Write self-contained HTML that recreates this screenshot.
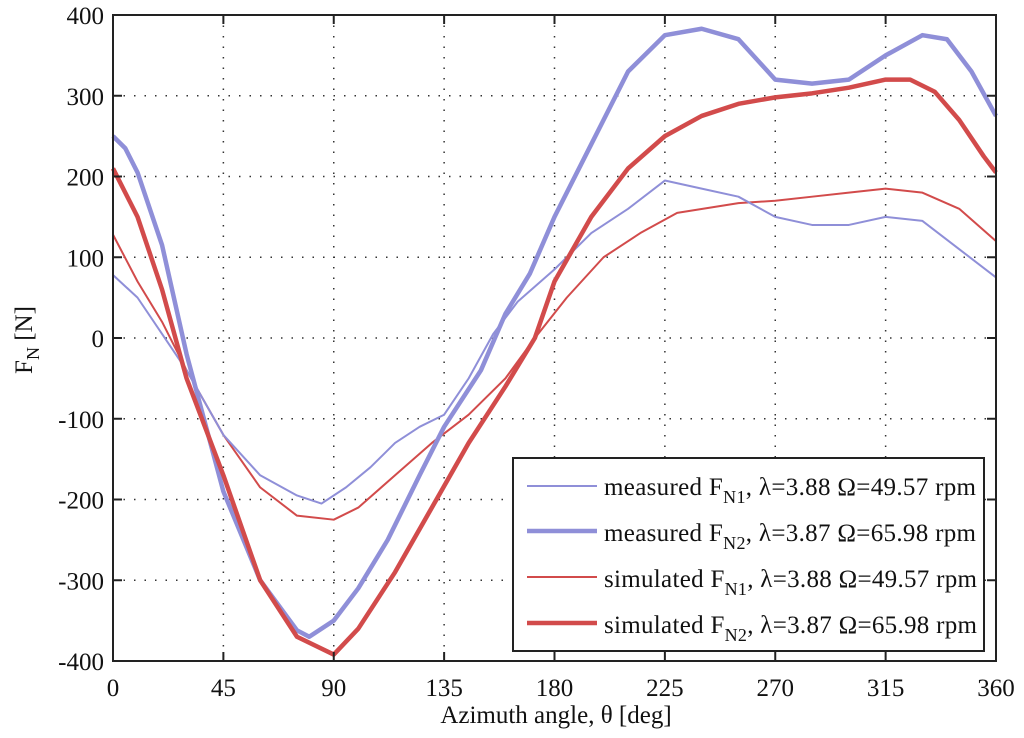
<!DOCTYPE html>
<html><head><meta charset="utf-8"><style>
body{margin:0;background:#fff;width:1024px;height:733px;overflow:hidden}
svg text{font-family:"Liberation Serif",serif;fill:#111}
</style></head><body>
<svg id="chart" width="1024" height="733" xmlns="http://www.w3.org/2000/svg">
<g id="grid"></g>
<g id="series"></g>
<rect x="113" y="15" width="883" height="646" fill="none" stroke="#222" stroke-width="2"/>
<g id="ticks"></g>
<text x="556" y="723" font-size="25" text-anchor="middle">Azimuth angle, θ [deg]</text>
<text transform="translate(32,340) rotate(-90)" font-size="25" text-anchor="middle">F<tspan font-size="18" dy="7">N</tspan><tspan dy="-7"> [N]</tspan></text>
<g>
<rect x="513" y="458" width="471" height="193" fill="#fff" stroke="#222" stroke-width="2"/>
<line x1="527" y1="486" x2="597" y2="486" stroke="#8f8fd8" stroke-width="2"/>
<line x1="527" y1="531" x2="597" y2="531" stroke="#8f8fd8" stroke-width="4.5"/>
<line x1="527" y1="577" x2="597" y2="577" stroke="#d24b4b" stroke-width="2"/>
<line x1="527" y1="623" x2="597" y2="623" stroke="#d24b4b" stroke-width="4.5"/>
<text x="604" y="495" font-size="25" textLength="372">measured F<tspan font-size="18" dy="8">N1</tspan><tspan dy="-8">, λ=3.88 Ω=49.57 rpm</tspan></text>
<text x="604" y="541" font-size="25" textLength="372">measured F<tspan font-size="18" dy="8">N2</tspan><tspan dy="-8">, λ=3.87 Ω=65.98 rpm</tspan></text>
<text x="604" y="587" font-size="25" textLength="373">simulated F<tspan font-size="18" dy="8">N1</tspan><tspan dy="-8">, λ=3.88 Ω=49.57 rpm</tspan></text>
<text x="604" y="633" font-size="25" textLength="373">simulated F<tspan font-size="18" dy="8">N2</tspan><tspan dy="-8">, λ=3.87 Ω=65.98 rpm</tspan></text>
</g>
</svg>
<script>
const xTicks=[0,45,90,135,180,225,270,315,360];
const yTicks=[-400,-300,-200,-100,0,100,200,300,400];
const measN2Theta=[0,5,10,20,30,45,60,75,80,90,100,112,125,135,150,160,170,180,195,210,225,240,255,270,285,300,315,330,340,350,360];
const measN2=[250,235,205,115,-20,-190,-300,-362,-370,-350,-310,-250,-170,-110,-40,30,80,150,240,330,375,383,370,320,315,320,350,375,370,330,275];
const measN1Theta=[0,10,20,30,45,60,75,85,95,105,115,125,135,145,155,165,180,195,210,225,240,255,270,285,300,315,330,345,360];
const measN1=[78,50,5,-40,-120,-170,-195,-205,-185,-160,-130,-110,-95,-50,5,45,85,130,160,195,185,175,150,140,140,150,145,110,75];
const simN2Theta=[0,10,20,30,45,60,75,90,100,115,130,145,160,172,180,195,210,225,240,255,270,285,300,315,325,335,345,355,360];
const simN2=[210,150,60,-50,-170,-300,-370,-392,-360,-290,-210,-130,-60,0,70,150,210,250,275,290,298,303,310,320,320,305,270,225,205];
const simN1Theta=[0,10,20,30,45,60,75,90,100,115,130,145,160,172,185,200,215,230,255,270,285,300,315,330,345,360];
const simN1=[128,70,20,-40,-120,-185,-220,-225,-210,-170,-130,-95,-50,0,50,100,130,155,167,170,175,180,185,180,160,120];
const X=v=>113+v*883/360, Y=v=>338-v*646/800;
const NS="http://www.w3.org/2000/svg";
const grid=document.getElementById('grid'),ticks=document.getElementById('ticks'),ser=document.getElementById('series');
function mk(tag,attrs,parent){const e=document.createElementNS(NS,tag);for(const k in attrs)e.setAttribute(k,attrs[k]);parent.appendChild(e);return e;}
xTicks.forEach(t=>{
 const gl=mk('line',{x1:X(t),x2:X(t),y1:15,y2:661,stroke:'#333','stroke-width':1.5,'stroke-dasharray':'1.5 9'},grid);
 
 
 mk('line',{x1:X(t),x2:X(t),y1:661,y2:652,stroke:'#222','stroke-width':2},ticks);
 mk('line',{x1:X(t),x2:X(t),y1:15,y2:24,stroke:'#222','stroke-width':2},ticks);
 const tx=mk('text',{x:X(t),y:696,'font-size':25,'text-anchor':'middle'},ticks);
 tx.textContent=t;
 
 
});
yTicks.forEach(t=>{
 const gl=mk('line',{x1:113,x2:996,y1:Y(t),y2:Y(t),stroke:'#333','stroke-width':1.5,'stroke-dasharray':'1.5 9'},grid);
 
 
 mk('line',{x1:113,x2:122,y1:Y(t),y2:Y(t),stroke:'#222','stroke-width':2},ticks);
 mk('line',{x1:996,x2:987,y1:Y(t),y2:Y(t),stroke:'#222','stroke-width':2},ticks);
 const tx=mk('text',{x:104,y:Y(t)+9,'font-size':25,'text-anchor':'end'},ticks);
 tx.textContent=t;
 
 
});
function line(th,vals,color,w,name){
 const p=mk('polyline',{points:th.map((t,i)=>X(t)+','+Y(vals[i])).join(' '),fill:'none',stroke:color,'stroke-width':w,'stroke-linejoin':'round'},ser);
 
 
}
line(simN1Theta,simN1,'#d24b4b',2,'line-simulated-n1');
line(measN1Theta,measN1,'#8f8fd8',2,'line-measured-n1');
line(measN2Theta,measN2,'#8f8fd8',4.5,'line-measured-n2');
line(simN2Theta,simN2,'#d24b4b',4.5,'line-simulated-n2');
</script>
</body></html>
